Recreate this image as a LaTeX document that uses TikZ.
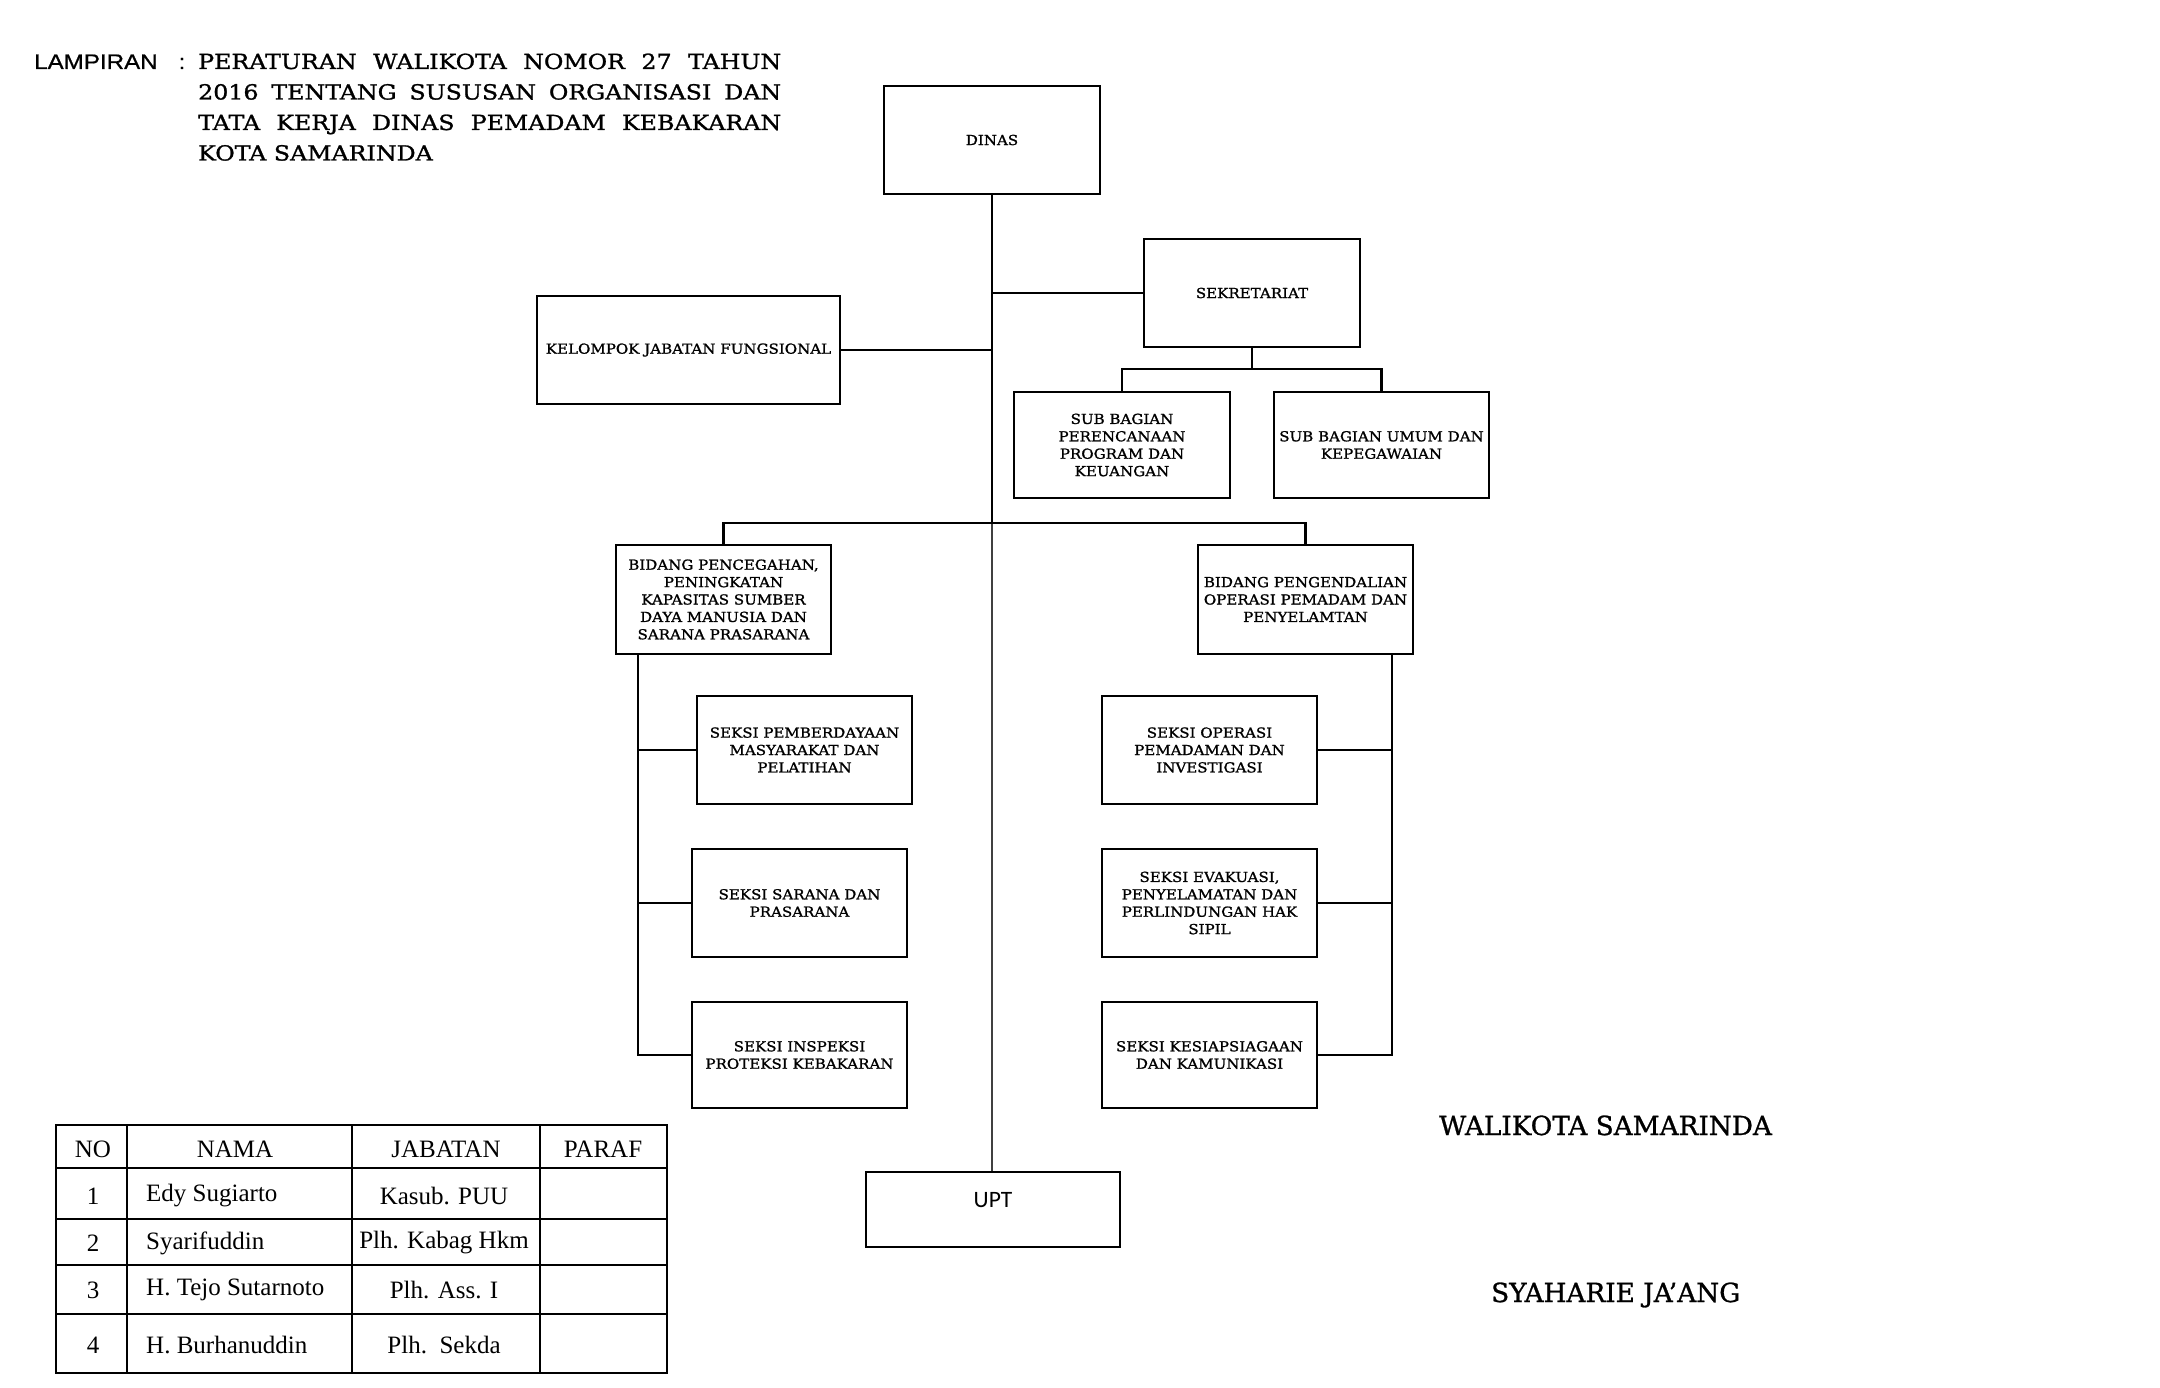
\documentclass[tikz,border=0pt]{standalone}
\usepackage{fontspec}
\setmainfont{Liberation Serif}
\newfontfamily\bxf[FakeStretch=1.09,FakeBold=1.2]{DejaVu Serif}
\newfontfamily\hdf[FakeStretch=1.14,FakeBold=1.2]{DejaVu Serif}
\newfontfamily\dvf[FakeBold=1]{DejaVu Serif}
\newfontfamily\lsf[FakeStretch=1.15,FakeBold=0.8]{Liberation Sans}
\newfontfamily\cbf{Carlito}
\begin{document}
\begin{tikzpicture}[x=1pt,y=-1pt,
  ob/.style={draw, line width=2.4pt, inner sep=0pt, align=center,
    font=\bxf\fontsize{13.8}{17.4}\selectfont, minimum width=215pt, minimum height=108pt},
  conn/.style={line width=2.4pt},
  thinconn/.style={line width=1.5pt, draw=black!75},
  tline/.style={line width=2pt},
  tt/.style={font=\fontsize{25}{28}\selectfont, inner sep=0pt},
  hdtxt/.style={font=\hdf\fontsize{20.8}{30}\selectfont, inner sep=0pt, anchor=base west},
  sig/.style={font=\dvf\fontsize{26.3}{30}\selectfont, inner sep=0pt, anchor=base west}
]
\useasboundingbox (0,0) rectangle (2160,1388);
\fill[white] (0,0) rectangle (2160,1388);

% header
\node[inner sep=0pt, anchor=base west, font=\lsf\fontsize{21}{30}\selectfont] (lamp) at (34,69) {LAMPIRAN};
\node[inner sep=0pt, anchor=base, font=\lsf\fontsize{21}{30}\selectfont] (colon) at (182,69) {:};
\node[hdtxt] (h1) at (198,69) {\makebox[583pt][s]{PERATURAN WALIKOTA NOMOR 27 TAHUN}};
\node[hdtxt] (h2) at (198,99.5) {\makebox[583pt][s]{2016 TENTANG SUSUSAN ORGANISASI DAN}};
\node[hdtxt] (h3) at (198,130) {\makebox[583pt][s]{TATA KERJA DINAS PEMADAM KEBAKARAN}};
\node[hdtxt] (h4) at (198,160.5) {KOTA SAMARINDA};

% boxes
\node[ob, minimum width=216pt] (dinas) at (992,140) {DINAS};
\node[ob, minimum width=216pt] (sek) at (1252,293) {SEKRETARIAT};
\node[ob, minimum width=303pt] (kjf) at (688.5,350) {KELOMPOK JABATAN FUNGSIONAL};
\node[ob, minimum width=216pt, minimum height=106pt] (sb1) at (1122,445) {SUB BAGIAN\\PERENCANAAN\\PROGRAM DAN\\KEUANGAN};
\node[ob, minimum height=106pt] (sb2) at (1381.5,445) {SUB BAGIAN UMUM DAN\\KEPEGAWAIAN};
\node[ob, minimum height=109pt] (bid1) at (723.5,599.5) {BIDANG PENCEGAHAN,\\PENINGKATAN\\KAPASITAS SUMBER\\DAYA MANUSIA DAN\\SARANA PRASARANA};
\node[ob, minimum height=109pt] (bid2) at (1305.5,599.5) {BIDANG PENGENDALIAN\\OPERASI PEMADAM DAN\\PENYELAMTAN};
\node[ob] (s1) at (804.5,750) {SEKSI PEMBERDAYAAN\\MASYARAKAT DAN\\PELATIHAN};
\node[ob] (s2) at (799.5,903) {SEKSI SARANA DAN\\PRASARANA};
\node[ob, minimum height=106pt] (s3) at (799.5,1055) {SEKSI INSPEKSI\\PROTEKSI KEBAKARAN};
\node[ob] (r1) at (1209.5,750) {SEKSI OPERASI\\PEMADAMAN DAN\\INVESTIGASI};
\node[ob] (r2) at (1209.5,903) {SEKSI EVAKUASI,\\PENYELAMATAN DAN\\PERLINDUNGAN HAK\\SIPIL};
\node[ob, minimum height=106pt] (r3) at (1209.5,1055) {SEKSI KESIAPSIAGAAN\\DAN KAMUNIKASI};
\node[draw, line width=2pt, minimum width=254pt, minimum height=75pt, inner sep=0pt] (upt) at (993,1209.5) {};
\node[inner sep=0pt, font=\cbf\fontsize{23.5}{26}\selectfont] (upttxt) at (993,1200) {UPT};

% junctions
\coordinate (bj) at (992,523);
\coordinate (sj) at (1252,369);
\coordinate (lsp) at (638,654);
\coordinate (rsp) at (1392,654);

% connectors
\draw[conn] (dinas.south) -- (bj);
\draw[thinconn] (bj) -- (bj |- upt.north);
\draw[conn] (dinas.south |- sek.west) -- (sek.west);
\draw[conn] (kjf.east) -- (dinas.south |- kjf.east);
\draw[conn] (sek.south) -- (sj);
\draw[conn] (sb1.north) |- (sj) -| (sb2.north);
\draw[conn] (bid1.north) |- (bj) -| (bid2.north);
\draw[conn] (lsp) -- (lsp |- s3.west) -- (s3.west);
\draw[conn] (lsp |- s1.west) -- (s1.west);
\draw[conn] (lsp |- s2.west) -- (s2.west);
\draw[conn] (rsp) -- (rsp |- r3.east) -- (r3.east);
\draw[conn] (rsp |- r1.east) -- (r1.east);
\draw[conn] (rsp |- r2.east) -- (r2.east);

% table
\draw[tline] (56,1125) rectangle (667,1373);
\foreach \yy in {1168,1219,1265,1314} \draw[tline] (56,\yy) -- (667,\yy);
\foreach \xx in {127,352,540} \draw[tline] (\xx,1125) -- (\xx,1373);
\node[tt] (tno) at (93,1149) {NO};
\node[tt] (tnama) at (235,1149) {NAMA};
\node[tt] (tjab) at (446,1149) {JABATAN};
\node[tt] (tpar) at (603,1149) {PARAF};
\node[tt] (n1) at (93,1196) {1};
\node[tt] (n2) at (93,1243) {2};
\node[tt] (n3) at (93,1290) {3};
\node[tt] (n4) at (93,1345) {4};
\node[tt, anchor=west] (m1) at (146,1196) {Edy Sugiarto};
\node[tt, anchor=west] (m2) at (146,1243) {Syarifuddin};
\node[tt, anchor=west] (m3) at (146,1290) {H. Tejo Sutarnoto};
\node[tt, anchor=west] (m4) at (146,1345) {H. Burhanuddin};
\node[tt] (j1) at (444,1196) {Kasub. PUU};
\node[tt] (j2) at (444,1243) {Plh. Kabag Hkm};
\node[tt] (j3) at (444,1290) {Plh. Ass. I};
\node[tt] (j4) at (444,1345) {Plh.\ \ Sekda};

% signature
\node[sig] (wk) at (1439,1135) {WALIKOTA SAMARINDA};
\node[sig] (sy) at (1491,1302) {SYAHARIE JA’ANG};
\end{tikzpicture}
\end{document}
